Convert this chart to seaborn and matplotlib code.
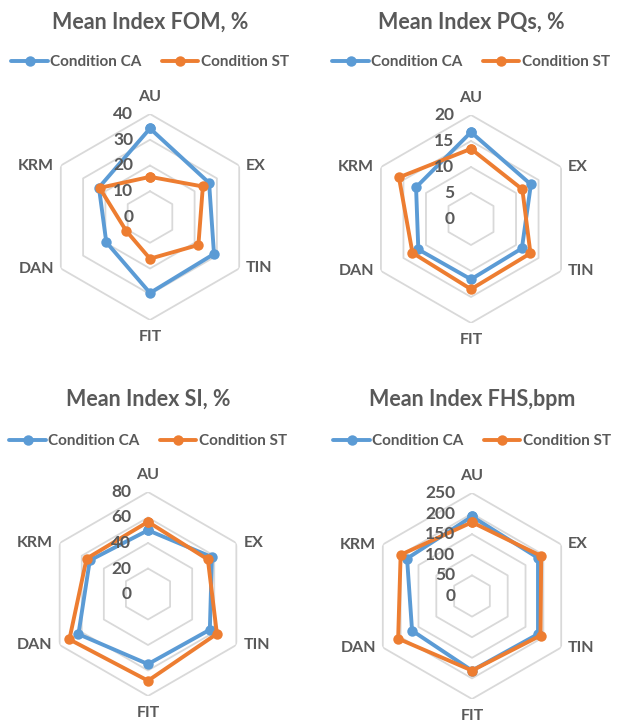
import numpy as np
import pandas as pd
import matplotlib
matplotlib.use("Agg")
import matplotlib.pyplot as plt
import matplotlib.transforms as mtransforms
from matplotlib.lines import Line2D
import seaborn as sns

# ---------------- data ----------------
categories = ["AU", "EX", "TIN", "FIT", "DAN", "KRM"]
series_names = ["Condition CA", "Condition ST"]

titles = ["Mean Index FOM, %", "Mean Index PQs, %", "Mean Index SI, %", "Mean Index FHS,bpm"]

fom_ca = [34.4, 26.5, 28.7, 29.5, 19.6, 22.9]
fom_st = [15.6, 23.7, 21.7, 16.2, 10.7, 22.6]
pqs_ca = [16.7, 13.3, 11.3, 11.6, 11.7, 12.2]
pqs_st = [13.5, 11.4, 13.2, 13.5, 13.0, 16.0]
si_ca = [50.0, 57.9, 56.0, 55.0, 63.0, 52.7]
si_st = [56.6, 54.2, 62.4, 68.0, 71.2, 55.6]
fhs_ca = [193, 185, 185, 181, 168, 182]
fhs_st = [179, 194, 192, 181, 207, 200]

fom_ticks = [0, 10, 20, 30, 40]
pqs_ticks = [0, 5, 10, 15, 20]
si_ticks = [0, 20, 40, 60, 80]
fhs_ticks = [0, 50, 100, 150, 200, 250]

panels = [
    (titles[0], fom_ca, fom_st, fom_ticks),
    (titles[1], pqs_ca, pqs_st, pqs_ticks),
    (titles[2], si_ca, si_st, si_ticks),
    (titles[3], fhs_ca, fhs_st, fhs_ticks),
]

# ---------------- style ----------------
sns.set_theme(style="white")
plt.rcParams["font.family"] = ["Lato", "DejaVu Sans"]
TXT = "#595959"
GRID = "#d9d9d9"
palette = {"Condition CA": "#5B9BD5", "Condition ST": "#ED7D31"}

W, H = 622, 722
fig = plt.figure(figsize=(W / 100, H / 100), dpi=100)

# layout in pixels: (centre x, centre y, outer radius, title y, legend y)
layout = [
    (150, 217, 103, 22, 62),
    (471, 219, 104, 22, 62),
    (148, 594, 102, 399, 441),
    (472, 596, 103, 399, 441),
]

n = len(categories)
angles = np.linspace(0, 2 * np.pi, n, endpoint=False)
angles_closed = np.concatenate([angles, angles[:1]])

for (title, ca, st, ticks), (cx, cy, rad, ty, ly) in zip(panels, layout):
    ax = fig.add_axes([(cx - rad) / W, (H - cy - rad) / H, 2 * rad / W, 2 * rad / H],
                      projection="polar")
    ax.set_theta_zero_location("N")
    ax.set_theta_direction(-1)
    ax.set_ylim(0, ticks[-1])
    ax.grid(False)
    ax.spines["polar"].set_visible(False)
    ax.set_facecolor("none")

    # hexagonal gridlines
    for t in ticks[1:]:
        ax.plot(angles_closed, [t] * (n + 1), color=GRID, lw=1.3, zorder=1)

    # data
    rows = []
    for name, vals in zip(series_names, [ca, st]):
        vc = list(vals) + [vals[0]]
        for k, (a, v) in enumerate(zip(angles_closed, vc)):
            rows.append({"theta": a, "r": v, "series": name, "order": k})
    df = pd.DataFrame(rows)
    sns.lineplot(data=df, x="theta", y="r", hue="series", palette=palette,
                 sort=False, estimator=None, units="series", ax=ax,
                 lw=2.8, marker="o", markersize=7.5, markeredgewidth=0,
                 legend=False, zorder=3)
    ax.set_xlabel("")
    ax.set_ylabel("")
    ax.set_xticks([])
    ax.set_yticks([])

    # category labels placed just outside the outer hexagon vertices
    rmax = ticks[-1]
    for a, lab in zip(angles, categories):
        sx, sy = np.sin(a), np.cos(a)
        if abs(sx) < 0.1:
            ha = "center"
            va = "bottom" if sy > 0 else "top"
            dx, dy = 0, 7 * sy
        else:
            ha = "left" if sx > 0 else "right"
            va = "center"
            dx, dy = 5 * np.sign(sx), 0
        tr = mtransforms.offset_copy(ax.transData, fig=fig, x=dx, y=dy, units="points")
        ax.text(a, rmax, lab, transform=tr, ha=ha, va=va, fontsize=11.5,
                fontweight="bold", color=TXT, clip_on=False)

    # radial tick labels along AU axis
    off = mtransforms.offset_copy(ax.transData, fig=fig, x=-12, y=0, units="points")
    for t in ticks:
        ax.text(0, t, str(t), transform=off, ha="right", va="center",
                fontsize=12.5, fontweight="bold", color=TXT)

    # title
    fig.text(cx / W, 1 - ty / H, title, ha="center", va="center",
             fontsize=15.5, fontweight="bold", color=TXT)

    # legend
    handles = [Line2D([0], [0], color=palette[s], lw=2.8, marker="o", markersize=7.5,
                      markeredgewidth=0) for s in series_names]
    fig.legend(handles, series_names, loc="center", ncol=2,
               bbox_to_anchor=(cx / W, 1 - ly / H), frameon=False,
               prop={"family": ["Lato", "DejaVu Sans"], "weight": "bold", "size": 11},
               labelcolor=TXT, handlelength=2.4, handletextpad=0.15, columnspacing=1.3)

fig.savefig("out.png", dpi=100)
